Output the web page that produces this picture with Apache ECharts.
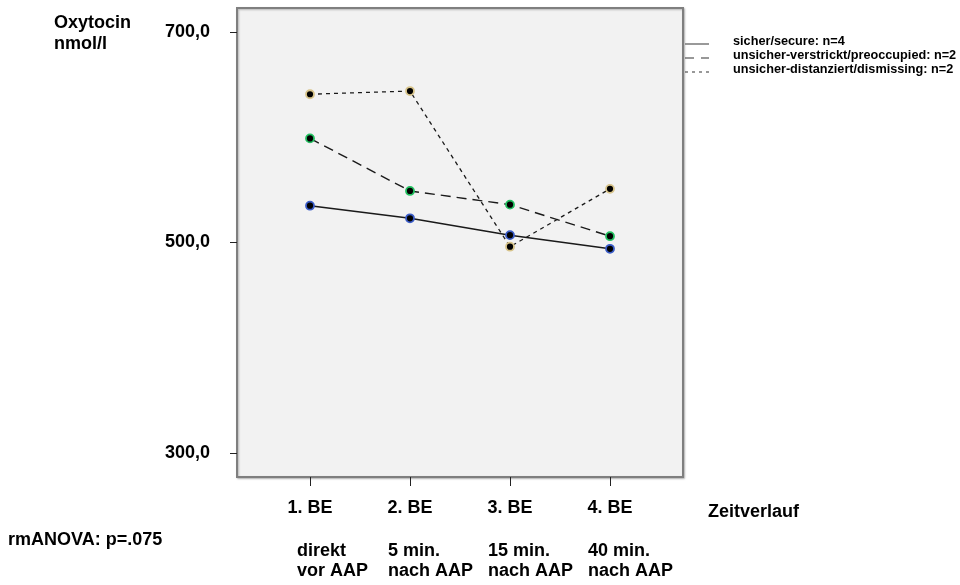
<!DOCTYPE html>
<html>
<head>
<meta charset="utf-8">
<script src="https://cdn.jsdelivr.net/npm/echarts@6/dist/echarts.min.js"></script>
<style>html,body{margin:0;padding:0;background:#fff}#c{width:960px;height:585px}</style>
</head>
<body>
<div id="c"></div>
<script>
// ---- data ----
const categories = ['1. BE', '2. BE', '3. BE', '4. BE'];
const subLabels = ['direkt\nvor AAP', '5 min.\nnach AAP', '15 min.\nnach AAP', '40 min.\nnach AAP'];
const yTicks = [300, 500, 700];
const seriesNames = ['sicher/secure: n=4', 'unsicher-verstrickt/preoccupied: n=2', 'unsicher-distanziert/dismissing: n=2'];
const secure = [535, 523, 507, 494];
const preoccupied = [599, 549, 536, 506];
const dismissing = [641, 644, 496, 551];

const FONT = "'Liberation Sans', Arial, sans-serif";
const chart = echarts.init(document.getElementById('c'), null, {renderer: 'canvas'});
const xPos = categories.map((c, i) => i + 1);
const toPts = arr => arr.map((v, i) => [xPos[i], v]);

const lineStyles = [
  {type: 'solid', width: 1.5},
  {type: [10, 6], width: 1.4},
  {type: [4, 4], width: 1.3}
];
const haloColors = ['#3a5cc8', '#22c060', '#d8c48a'];
const datasets = [secure, preoccupied, dismissing];

const series = datasets.map((arr, i) => ({
  name: seriesNames[i],
  type: 'line',
  data: toPts(arr),
  symbol: 'circle',
  symbolSize: 8,
  lineStyle: Object.assign({color: '#1a1a1a'}, lineStyles[i]),
  itemStyle: {color: '#000', borderColor: haloColors[i], borderWidth: 1.8},
  z: 3 + i,
  animation: false
}));

const option = {
  animation: false,
  grid: {left: 237, top: 8, right: 277, bottom: 108, show: true,
         backgroundColor: '#f2f2f2', borderColor: '#7f7f7f', borderWidth: 2,
         shadowColor: 'rgba(0,0,0,0.25)', shadowOffsetX: 1, shadowOffsetY: 1, shadowBlur: 2},
  xAxis: {
    type: 'value', min: 0.27, max: 4.73,
    axisLine: {show: false},
    splitLine: {show: false},
    axisTick: {show: true, customValues: xPos, length: 9, lineStyle: {color: '#222', width: 1}},
    axisLabel: {show: true, customValues: xPos, margin: 22,
      formatter: v => categories[Math.round(v) - 1],
      fontFamily: FONT, fontWeight: 'bold', fontSize: 18, color: '#000'}
  },
  yAxis: {
    type: 'value', min: 277, max: 723,
    axisLine: {show: false},
    splitLine: {show: false},
    axisTick: {show: true, customValues: yTicks, length: 7, lineStyle: {color: '#222', width: 1}},
    axisLabel: {show: true, customValues: yTicks, margin: 27,
      formatter: v => v.toFixed(1).replace('.', ','),
      fontFamily: FONT, fontWeight: 'bold', fontSize: 18, color: '#000'}
  },
  series: series
};
chart.setOption(option);

// ---- annotations / legend ----
const txt = (x, y, text, size, extra) => ({
  type: 'text', x: x, y: y,
  style: Object.assign({text: text, fontFamily: FONT, fontWeight: 'bold', fontSize: size, fill: '#000',
    textVerticalAlign: 'middle', lineHeight: 20}, extra || {})
});
const graphics = [];
graphics.push(txt(54, 34, 'Oxytocin\nnmol/l', 18, {lineHeight: 21}));
graphics.push(txt(708, 512, 'Zeitverlauf', 18));
graphics.push(txt(8, 540, 'rmANOVA: p=.075', 18));
const subOffsets = [-13, -22, -22, -22];
subLabels.forEach((s, i) => {
  const px = chart.convertToPixel({xAxisIndex: 0}, xPos[i]);
  graphics.push(txt(px + subOffsets[i], 561, s, 18));
});
const legY = [44, 58, 72];
seriesNames.forEach((n, i) => {
  graphics.push({type: 'line', shape: {x1: 685, y1: legY[i], x2: 709, y2: legY[i]},
    style: {stroke: i === 0 ? '#777' : '#333', lineWidth: i === 0 ? 1.5 : 1.2,
      lineDash: i === 0 ? null : (i === 1 ? [9, 7] : [3, 4])}});
  graphics.push(txt(733, legY[i] - 3, n, 12.7, {lineHeight: 15}));
});
chart.setOption({graphic: graphics});
</script>
</body>
</html>
